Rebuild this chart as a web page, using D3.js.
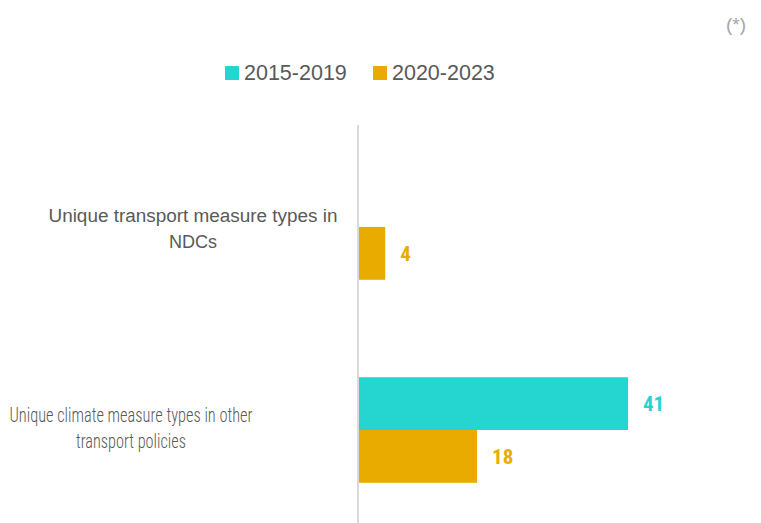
<!DOCTYPE html>
<html><head><meta charset="utf-8">
<script src="https://cdn.jsdelivr.net/npm/d3@7"></script>
<style>body{margin:0;background:#fff}svg{display:block}</style>
</head><body>
<svg id="chart" width="761" height="523"></svg>
<script>
const categories = ["Unique transport measure types in NDCs", "Unique climate measure types in other transport policies"];
const categoryLines = [["Unique transport measure types in", "NDCs"], ["Unique climate measure types in other", "transport policies"]];
const seriesNames = ["2015-2019", "2020-2023"];
const series2015_2019 = [null, 41];
const series2020_2023 = [4, 18];
const colors = ["#24D6CF", "#EAAB00"];

const svg = d3.select("#chart");
const narrow = "'Liberation Sans Narrow', 'Roboto Condensed', 'Liberation Sans', sans-serif";
const regular = "'Liberation Sans', Arial, sans-serif";
const x = d3.scaleLinear().domain([0, 41]).range([359, 628]);
const y = d3.scaleBand().domain(categories).range([125.5, 531.5]).paddingInner(0.48).paddingOuter(0.24);
const y2 = d3.scaleBand().domain(seriesNames).range([0, y.bandwidth()]);

const data = [series2015_2019, series2020_2023];
seriesNames.forEach((s, si) => {
  const g = svg.append("g");
  categories.forEach((c, ci) => {
    const v = data[si][ci];
    if (v == null) return;
    g.append("rect").attr("x", x(0)).attr("y", y(c) + y2(s))
      .attr("width", x(v) - x(0)).attr("height", y2.bandwidth()).attr("fill", colors[si]);
    g.append("text").attr("x", x(v) + 15).attr("y", y(c) + y2(s) + y2.bandwidth() / 2)
      .attr("dy", "0.35em").attr("fill", colors[si]).attr("font-family", narrow)
      .attr("font-weight", "bold").attr("font-size", 21).text(v);
  });
});

// axis line
svg.append("line").attr("x1", x(0) - 1).attr("x2", x(0) - 1).attr("y1", 125).attr("y2", 523)
  .attr("stroke", "#d9d9d9").attr("stroke-width", 2);

// category labels
const labelCenters = [193, 131];
const labelFonts = [regular, narrow];
const labelSizes = [18, 20.5];
const labelWidths = [[289, null], [243, 110]];
categories.forEach((c, ci) => {
  const cy = y(c) + y.bandwidth() / 2;
  categoryLines[ci].forEach((line, li) => {
    const t = svg.append("text").attr("x", labelCenters[ci]).attr("y", cy - 12 + li * 26 + (ci === 0 ? 1 : -3))
      .attr("dy", "0.35em").attr("text-anchor", "middle").attr("font-family", labelFonts[ci])
      .attr("font-size", labelSizes[ci]).attr("fill", "#595959").attr("font-weight", ci === 1 ? 300 : 400)
      .text(line);
    if (labelWidths[ci][li]) t.attr("textLength", labelWidths[ci][li]).attr("lengthAdjust", "spacingAndGlyphs");
  });
});

// legend
const legendX = [225, 373];
seriesNames.forEach((s, si) => {
  svg.append("rect").attr("x", legendX[si]).attr("y", 66).attr("width", 14).attr("height", 14).attr("fill", colors[si]);
  svg.append("text").attr("x", legendX[si] + 19).attr("y", 80).attr("font-family", regular)
    .attr("font-size", 21.5).attr("fill", "#595959").text(s);
});

svg.append("text").attr("x", 746).attr("y", 31).attr("text-anchor", "end")
  .attr("font-family", regular).attr("font-size", 19).attr("fill", "#a6a6a6").text("(*)");
</script>
</body></html>
